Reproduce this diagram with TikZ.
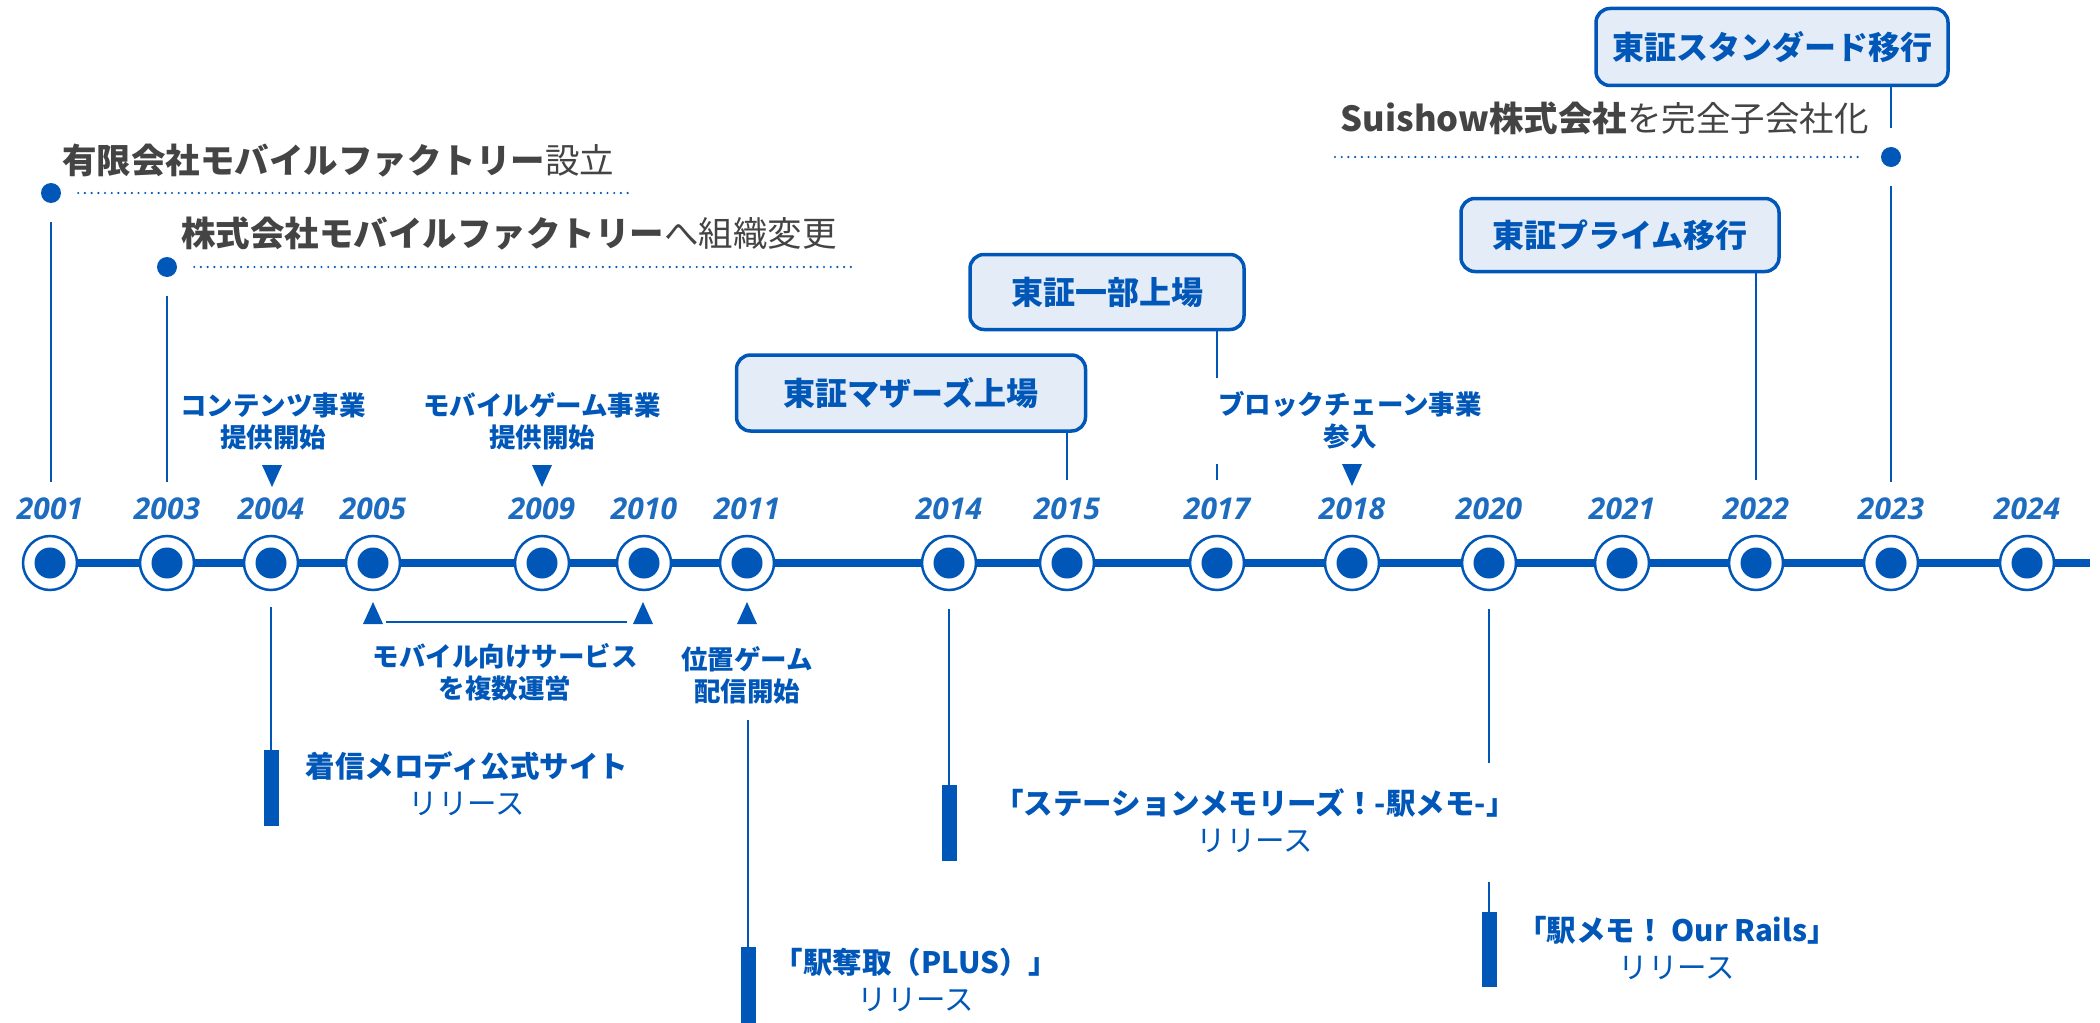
\documentclass[tikz,border=0pt]{standalone}
\usepackage{fontspec}
\setmainfont{Noto Sans CJK JP}
\newfontfamily\yearfont{Open Sans}
\usetikzlibrary{calc}
\definecolor{mblue}{HTML}{0057B8}
\definecolor{yblue}{HTML}{1D6CC0}
\definecolor{boxfill}{HTML}{E4ECF8}
\definecolor{dgray}{HTML}{444444}
\begin{document}
\begin{tikzpicture}[x=1pt,y=-1pt,
  yr/.style={circle, draw=mblue, line width=2.5pt, fill=white, minimum size=54pt, inner sep=0pt,
    path picture={\fill[mblue] (path picture bounding box.center) circle (15.5pt);}},
  yl/.style={font=\yearfont\bfseries\itshape\fontsize{30}{36}\selectfont, text=yblue, inner sep=0pt},
  dotmark/.style={circle, fill=mblue, minimum size=20pt, inner sep=0pt},
  conn/.style={draw=mblue, line width=2pt},
  dotline/.style={draw=mblue, line width=2.4pt, line cap=round, dash pattern=on 0pt off 6.7pt},
  tbox/.style={draw=mblue, line width=3.5pt, fill=boxfill, rounded corners=14pt, text=mblue,
    font=\bfseries\fontsize{32}{38}\selectfont, inner sep=0pt},
  gtext/.style={text=dgray, font=\fontsize{34.5}{40}\selectfont, inner sep=0pt},
  slabel/.style={text=mblue, font=\bfseries\fontsize{26.5}{32}\selectfont, align=center, inner sep=0pt},
  rlabel/.style={text=mblue, font=\fontsize{29.5}{37}\selectfont, align=center, inner sep=0pt},
  bar/.style={fill=mblue, minimum width=15pt, inner sep=0pt, anchor=north},
  tri/.style={fill=mblue}
]
\useasboundingbox (0,0) rectangle (2100,1022);

% main line
\coordinate (linestart) at (50,563);
\coordinate (lineend) at (2090,563);
\draw[mblue, line width=8pt] (linestart) -- (lineend);

% years
\foreach \yy/\xx in {2001/50, 2003/167, 2004/271, 2005/373, 2009/542, 2010/644, 2011/747,
  2014/949, 2015/1067, 2017/1217, 2018/1352, 2020/1489, 2021/1622, 2022/1756, 2023/1891, 2024/2027} {
  \node[yr] (y\yy) at (\xx,563) {};
  \node[yl] (l\yy) at (\xx,509) {\yy};
}

% upper events (gray)
\node[dotmark] (d2001) at (51,193) {};
\node[dotmark] (d2003) at (167,267) {};
\node[dotmark] (d2023) at (1891,157) {};
\coordinate (dl1) at (629,193);
\coordinate (dl2) at (853,267);
\coordinate (dl3) at (1335,157);
\draw[dotline, shorten <=17pt] (d2001) -- (dl1);
\draw[dotline, shorten <=17pt] (d2003) -- (dl2);
\draw[dotline, shorten >=19pt] (dl3) -- (d2023);

\node[gtext, anchor=west] (ev2001) at (62,161) {\bfseries 有限会社モバイルファクトリー\mdseries 設立};
\node[gtext, anchor=west] (ev2003) at (181,234) {\bfseries 株式会社モバイルファクトリー\mdseries へ組織変更};
\node[gtext, anchor=east] (ev2023) at (1869,118) {\bfseries Suishow株式会社\mdseries を完全子会社化};

\coordinate (e2001) at (51,482);
\coordinate (e2003) at (167,482);
\draw[conn, shorten <=19pt] (d2001) -- (e2001);
\draw[conn, shorten <=19pt] (d2003) -- (e2003);

% boxes
\node[tbox, minimum width=352pt, minimum height=77pt] (b2023) at (1772,47) {東証スタンダード移行};
\node[tbox, minimum width=318pt, minimum height=73pt] (b2022) at (1620,235) {東証プライム移行};
\node[tbox, minimum width=274pt, minimum height=75pt] (b2017) at (1107,292) {東証一部上場};
\node[tbox, minimum width=349pt, minimum height=76pt] (b2015) at (911,393) {東証マザーズ上場};

\coordinate (e2015) at (1067,480);
\coordinate (e2022) at (1756,480);
\coordinate (e2023) at (1891,482);
\coordinate (m2017a) at (1217,378);
\coordinate (m2017b) at (1217,464);
\coordinate (e2017) at (1217,480);
\draw[conn] (b2015.south -| e2015) -- (e2015);
\draw[conn] (b2022.south -| e2022) -- (e2022);
\draw[conn, shorten >=19pt] (b2023.south -| d2023) -- (d2023);
\draw[conn, shorten <=19pt] (d2023) -- (e2023);
\draw[conn] (b2017.south -| m2017a) -- (m2017a);
\draw[conn] (m2017b) -- (e2017);

% small labels above line
\node[slabel] (s2004) at (273,421) {コンテンツ事業\\提供開始};
\node[slabel] (s2009) at (542,421) {モバイルゲーム事業\\提供開始};
\node[slabel] (s2018) at (1350,420) {ブロックチェーン事業\\参入};
\coordinate (t2004) at (272,476);
\coordinate (t2009) at (542,476);
\coordinate (t2018) at (1352,475);
\foreach \t in {t2004,t2009,t2018} {
  \fill[tri] (\t) ++(-10,-11) -- ++(20,0) -- ++(-10,22) -- cycle;
}

% labels below line
\coordinate (u2005) at (373,613);
\coordinate (u2010) at (643,613);
\coordinate (u2011) at (747,613);
\foreach \t in {u2005,u2010,u2011} {
  \fill[tri] (\t) ++(-10,11) -- ++(20,0) -- ++(-10,-22) -- cycle;
}
\coordinate (h1) at (386,622);
\coordinate (h2) at (627,622);
\draw[conn] (h1) -- (h2);
\node[slabel] (s2005) at (505,672) {モバイル向けサービス\\を複数運営};
\node[slabel] (s2011) at (747,675) {位置ゲーム\\配信開始};

% releases
\node[bar, minimum height=76pt] (r2004) at (271,750) {};
\node[bar, minimum height=76pt] (r2011) at (748,947) {};
\node[bar, minimum height=76pt] (r2014) at (949,785) {};
\node[bar, minimum height=75pt] (r2020) at (1489,912) {};
\coordinate (c2004) at (271,607);
\coordinate (c2011) at (748,720);
\coordinate (c2014) at (949,609);
\coordinate (c2020a) at (1489,609);
\coordinate (c2020b) at (1489,763);
\coordinate (c2020c) at (1489,882);
\draw[conn] (c2004) -- (r2004.north);
\draw[conn] (c2011) -- (r2011.north);
\draw[conn] (c2014) -- (r2014.north);
\draw[conn] (c2020a) -- (c2020b);
\draw[conn] (c2020c) -- (r2020.north);

\node[rlabel] (rt2004) at (467,784) {{\bfseries 着信メロディ公式サイト}\\リリース};
\node[rlabel] (rt2011) at (916,980) {{\bfseries 「駅奪取（PLUS）」}\\リリース};
\node[rlabel] (rt2014) at (1255,821) {{\bfseries 「ステーションメモリーズ！-駅メモ-」}\\リリース};
\node[rlabel] (rt2020) at (1677,948) {{\bfseries 「駅メモ！ Our Rails」}\\リリース};
\end{tikzpicture}
\end{document}
